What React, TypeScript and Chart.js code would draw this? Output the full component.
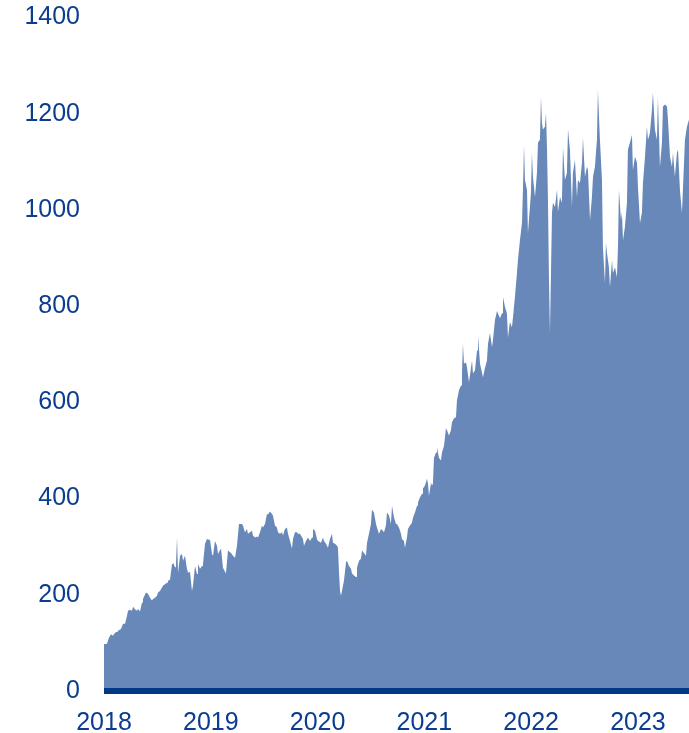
import React, { useEffect, useRef } from "react";
import { Chart, registerables } from "chart.js";

Chart.register(...registerables);

// Axis settings (data units)
const X_MIN = 2018;
const X_MAX = 2023.478;
const Y_MIN = 0;
const Y_MAX = 1400;
const Y_STEP = 200;
const yearLabels = [2018, 2019, 2020, 2021, 2022, 2023];

// Price readings: [fraction of year, value]
const p2018: [number, number][] = [
  [0.000, 97], [0.028, 98], [0.047, 111], [0.066, 118], [0.084, 115], [0.103, 121], [0.122, 123], [0.131, 125],
  [0.159, 129], [0.178, 140], [0.197, 140], [0.215, 156], [0.225, 167], [0.243, 169], [0.262, 167], [0.272, 175],
  [0.290, 170], [0.309, 167], [0.318, 171], [0.337, 165], [0.356, 184], [0.365, 191], [0.393, 205], [0.412, 202],
  [0.431, 194], [0.449, 188], [0.459, 191], [0.478, 194], [0.496, 198], [0.506, 205], [0.524, 208], [0.543, 215],
  [0.552, 219], [0.571, 222], [0.590, 225], [0.599, 229], [0.618, 231], [0.637, 264], [0.646, 267], [0.665, 257],
  [0.674, 264], [0.684, 319], [0.693, 246], [0.712, 281], [0.730, 285], [0.740, 271], [0.758, 281], [0.777, 254],
  [0.787, 246], [0.805, 248], [0.824, 208], [0.833, 219], [0.852, 260], [0.871, 243], [0.880, 264], [0.899, 254],
  [0.918, 260], [0.927, 264], [0.946, 306], [0.964, 316], [0.974, 315], [0.993, 314],
];

const p2019: [number, number][] = [
  [0.011, 285], [0.021, 281], [0.039, 312], [0.058, 302], [0.067, 285], [0.096, 296], [0.114, 256], [0.142, 244],
  [0.161, 292], [0.189, 287], [0.208, 281], [0.227, 277], [0.245, 302], [0.264, 347], [0.292, 347], [0.301, 344],
  [0.320, 330], [0.339, 337], [0.348, 327], [0.367, 330], [0.386, 333], [0.395, 323], [0.414, 319], [0.433, 321],
  [0.442, 319], [0.461, 330], [0.479, 344], [0.489, 340], [0.507, 347], [0.526, 368], [0.536, 367], [0.554, 373],
  [0.573, 368], [0.582, 365], [0.601, 344], [0.620, 340], [0.629, 330], [0.648, 327], [0.667, 330], [0.676, 323],
  [0.695, 337], [0.713, 340], [0.723, 327], [0.742, 312], [0.760, 296], [0.770, 316], [0.788, 330], [0.807, 330],
  [0.816, 327], [0.835, 327], [0.863, 316], [0.873, 302], [0.891, 312], [0.910, 319], [0.929, 312], [0.948, 319],
  [0.957, 337], [0.976, 333], [0.994, 316],
];

const p2020: [number, number][] = [
  [0.004, 312], [0.032, 308], [0.051, 319], [0.060, 312], [0.079, 306], [0.097, 298], [0.116, 316], [0.135, 327],
  [0.144, 308], [0.163, 306], [0.182, 302], [0.191, 298], [0.200, 250], [0.210, 208], [0.219, 198], [0.228, 208],
  [0.247, 229], [0.266, 267], [0.275, 271], [0.294, 260], [0.313, 254], [0.322, 244], [0.341, 240], [0.360, 237],
  [0.369, 256], [0.388, 271], [0.406, 275], [0.416, 292], [0.434, 287], [0.453, 281], [0.463, 308], [0.481, 327],
  [0.500, 347], [0.509, 377], [0.528, 371], [0.547, 347], [0.556, 340], [0.575, 327], [0.594, 337], [0.603, 335],
  [0.622, 330], [0.640, 344], [0.650, 371], [0.669, 365], [0.687, 347], [0.697, 385], [0.715, 361], [0.734, 347],
  [0.743, 347], [0.762, 340], [0.781, 327], [0.790, 316], [0.809, 312], [0.818, 298], [0.837, 319], [0.846, 337],
  [0.865, 344], [0.884, 350], [0.893, 360], [0.912, 371], [0.931, 385], [0.940, 392], [0.959, 403], [0.978, 410],
  [0.987, 421],
];

const p2021: [number, number][] = [
  [0.006, 427], [0.024, 441], [0.034, 431], [0.043, 406], [0.062, 433], [0.071, 427], [0.080, 431], [0.090, 485],
  [0.109, 496], [0.118, 506], [0.137, 485], [0.155, 479], [0.165, 496], [0.184, 510], [0.202, 546], [0.212, 542],
  [0.230, 531], [0.249, 542], [0.258, 558], [0.277, 567], [0.296, 569], [0.305, 604], [0.324, 625], [0.343, 635],
  [0.352, 660], [0.361, 722], [0.371, 681], [0.390, 683], [0.399, 673], [0.418, 642], [0.436, 671], [0.446, 687],
  [0.455, 660], [0.474, 667], [0.493, 708], [0.502, 740], [0.521, 681], [0.539, 662], [0.549, 652], [0.567, 671],
  [0.586, 687], [0.596, 722], [0.614, 744], [0.633, 715], [0.642, 729], [0.661, 771], [0.680, 790], [0.708, 775],
  [0.727, 785], [0.736, 819], [0.755, 798], [0.773, 785], [0.783, 735], [0.801, 767], [0.820, 756], [0.830, 777],
  [0.848, 819], [0.867, 869], [0.876, 896], [0.895, 937], [0.914, 973], [0.923, 1042], [0.933, 1135], [0.942, 1062],
  [0.961, 1042], [0.970, 952], [0.979, 979], [0.998, 1035],
];

const p2022: [number, number][] = [
  [0.007, 1119], [0.017, 1069], [0.036, 1027], [0.054, 1077], [0.064, 1140], [0.082, 1146], [0.092, 1235], [0.101, 1181],
  [0.110, 1167], [0.129, 1173], [0.139, 1202], [0.148, 1131], [0.157, 1027], [0.167, 854], [0.176, 744], [0.195, 994],
  [0.204, 1015], [0.223, 1006], [0.242, 1042], [0.251, 996], [0.270, 1027], [0.288, 1015], [0.298, 1131], [0.316, 1062],
  [0.335, 1077], [0.345, 1167], [0.363, 1125], [0.382, 1006], [0.391, 1077], [0.410, 1104], [0.429, 1027], [0.438, 1062],
  [0.457, 1056], [0.476, 1098], [0.485, 1150], [0.504, 1069], [0.522, 1090], [0.532, 1083], [0.551, 979], [0.569, 1027],
  [0.579, 1069], [0.597, 1090], [0.616, 1146], [0.625, 1250], [0.644, 1146], [0.663, 1062], [0.672, 923], [0.691, 848],
  [0.700, 931], [0.710, 910], [0.728, 881], [0.738, 840], [0.757, 896], [0.766, 869], [0.785, 881], [0.803, 860],
  [0.813, 923], [0.822, 1042], [0.841, 979], [0.850, 994], [0.860, 937], [0.878, 965], [0.897, 1015], [0.906, 1125],
  [0.925, 1140], [0.944, 1156], [0.953, 1083], [0.972, 1111], [0.991, 1098],
];

const p2023: [number, number][] = [
  [0.000, 1048], [0.019, 973], [0.037, 994], [0.047, 1056], [0.066, 1111], [0.084, 1173], [0.094, 1146], [0.112, 1160],
  [0.131, 1208], [0.140, 1244], [0.159, 1167], [0.178, 1146], [0.187, 1235], [0.206, 1090], [0.225, 1140], [0.234, 1215],
  [0.253, 1219], [0.272, 1215], [0.281, 1188], [0.300, 1111], [0.318, 1090], [0.328, 1119], [0.346, 1069], [0.365, 1119],
  [0.375, 1125], [0.393, 1042], [0.412, 994], [0.421, 1042], [0.440, 1146], [0.459, 1173], [0.478, 1188],
];

// Zero baseline drawn across the full time range
const baseline: { x: number; y: number }[] = [
  { x: X_MIN, y: 0 },
  { x: X_MAX, y: 0 },
];

const FILL = "#6888b9";
const BASE_LINE = "#003886";
const TEXT = "#0a3d8f";
const FONT = { family: 'Arial, "Liberation Sans", sans-serif', size: 25 };

export default function App() {
  const ref = useRef<HTMLCanvasElement>(null);

  useEffect(() => {
    const byYear: [number, [number, number][]][] = [
      [2018, p2018], [2019, p2019], [2020, p2020], [2021, p2021], [2022, p2022], [2023, p2023],
    ];
    const points = byYear.flatMap(([yr, arr]) => arr.map(([t, v]) => ({ x: yr + t, y: v })));

    const chart = new Chart(ref.current as HTMLCanvasElement, {
      type: "line",
      data: {
        datasets: [
          {
            data: baseline,
            fill: false,
            clip: false,
            borderColor: BASE_LINE,
            borderWidth: 6,
            borderCapStyle: "butt",
            pointRadius: 0,
            tension: 0,
          },
          {
            data: points,
            fill: "origin",
            backgroundColor: FILL,
            borderWidth: 0,
            borderColor: "rgba(0,0,0,0)",
            pointRadius: 0,
            tension: 0,
          },
        ],
      },
      options: {
        responsive: false,
        animation: false,
        devicePixelRatio: 1,
        layout: { padding: { top: 0, left: 0, right: 0, bottom: 0 } },
        plugins: { legend: { display: false }, tooltip: { enabled: false } },
        scales: {
          x: {
            type: "linear",
            min: X_MIN,
            max: X_MAX,
            afterFit: (s: any) => { s.height = 42; },
            grid: { display: false, drawTicks: false },
            border: { display: false },
            ticks: {
              stepSize: 1,
              includeBounds: false,
              autoSkip: false,
              maxRotation: 0,
              padding: 17,
              color: TEXT,
              font: FONT,
              callback: (v: any) => (yearLabels.includes(Number(v)) ? String(v) : ""),
            },
          },
          y: {
            min: Y_MIN,
            max: Y_MAX,
            afterFit: (s: any) => { s.width = 104; s.paddingTop = 17.5; },
            grid: { display: false, drawTicks: false },
            border: { display: false },
            ticks: {
              stepSize: Y_STEP,
              padding: 24,
              color: TEXT,
              font: FONT,
              callback: (v: any) => String(v),
            },
          },
        },
      },
    });
    return () => chart.destroy();
  }, []);

  return (
    <canvas
      ref={ref}
      width={689}
      height={733}
      style={{ position: "absolute", left: 0, top: 0, display: "block" }}
    />
  );
}
